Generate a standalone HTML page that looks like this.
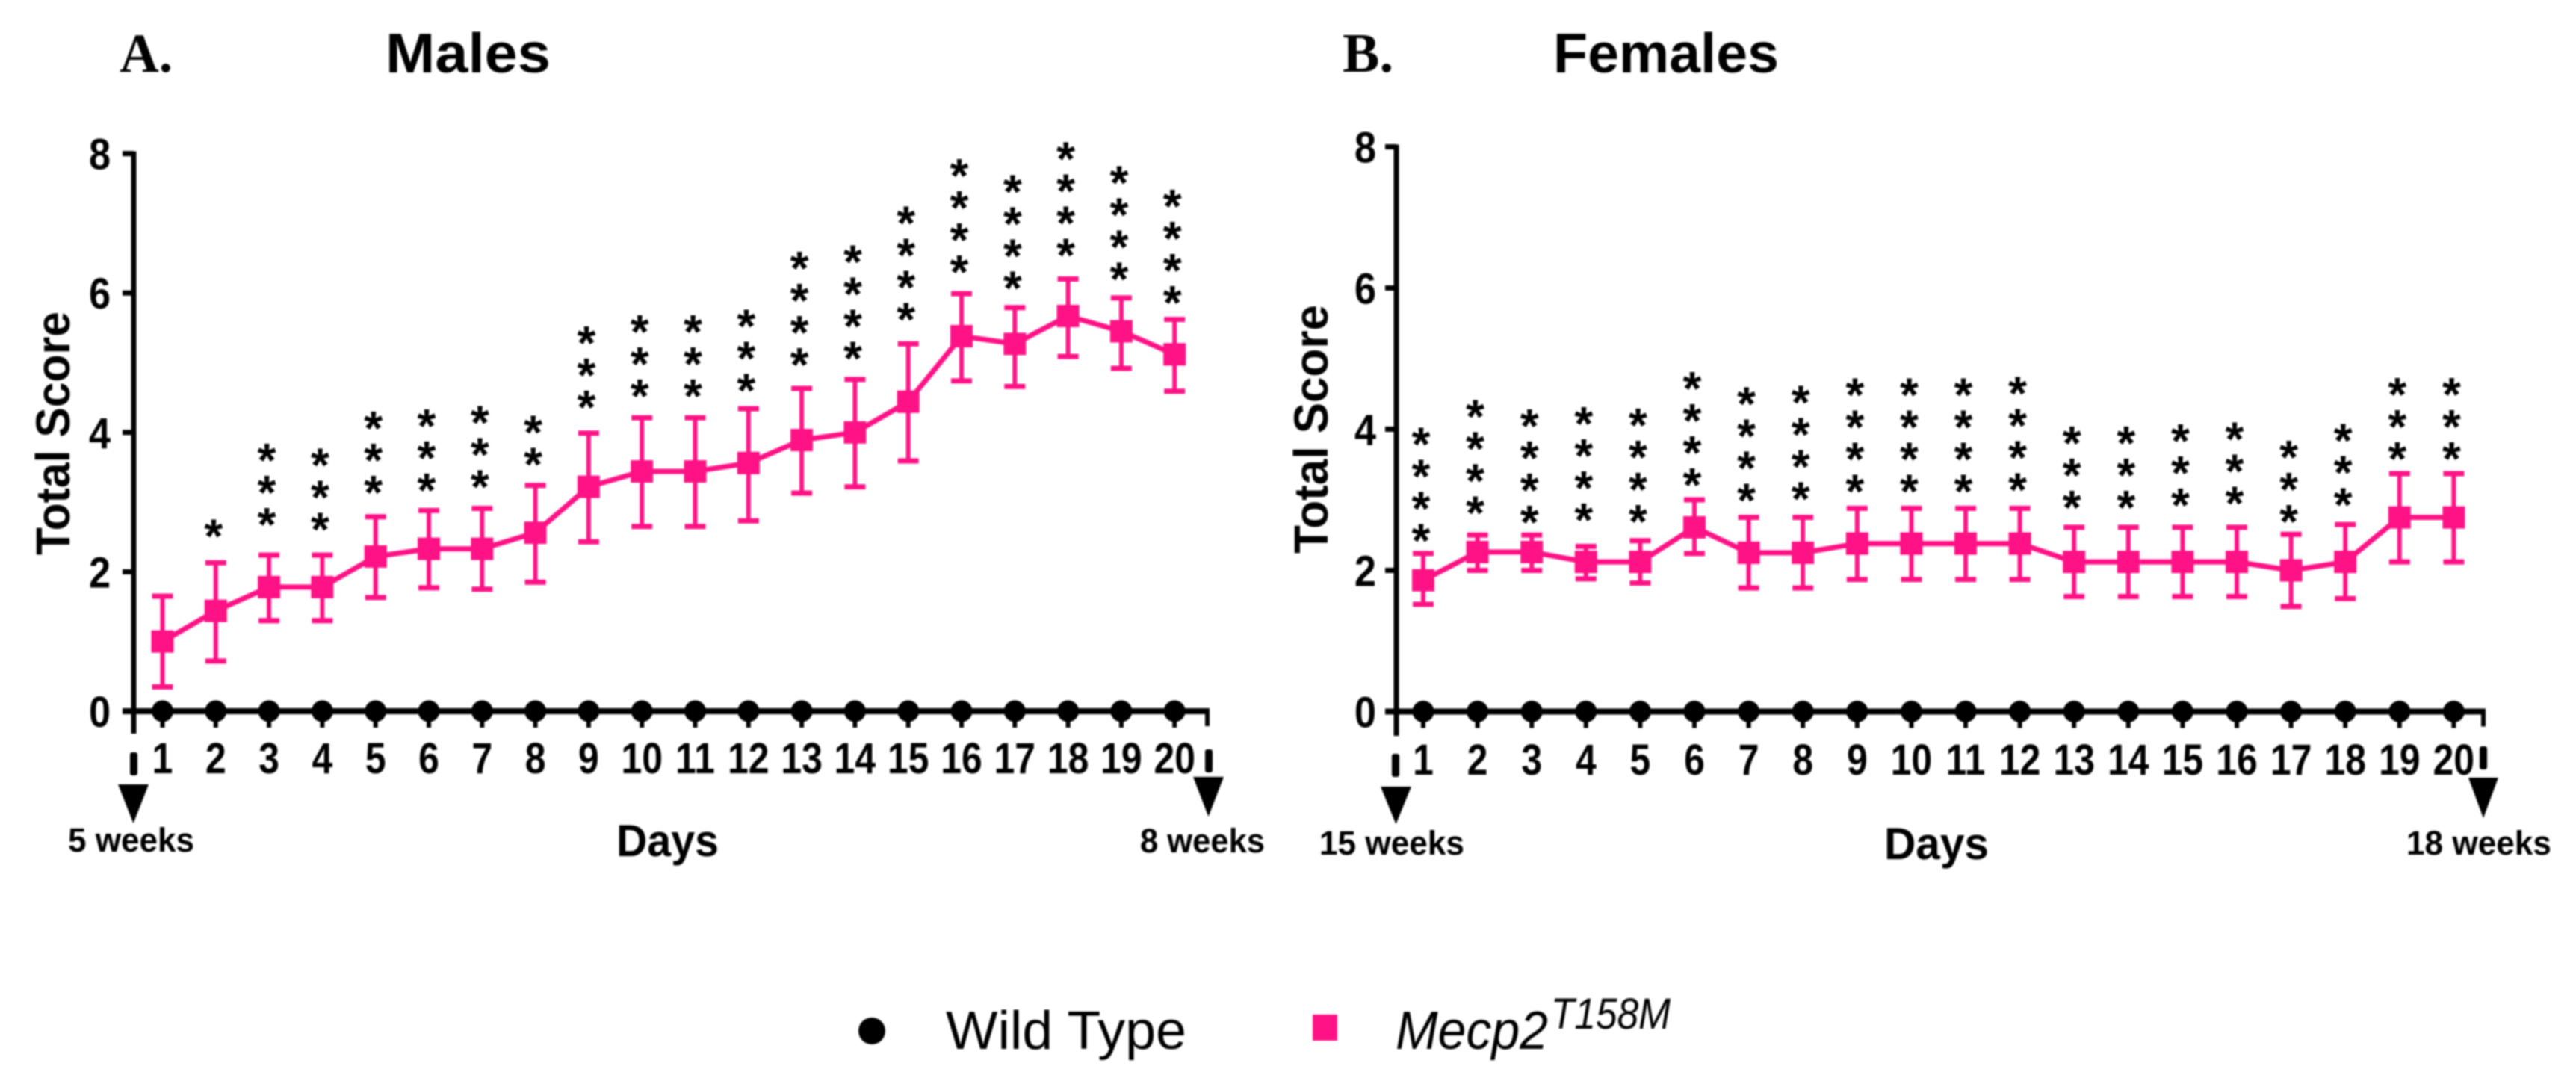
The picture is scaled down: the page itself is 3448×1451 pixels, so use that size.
<!DOCTYPE html>
<html>
<head>
<meta charset="utf-8">
<title>Total Score by Day: Males and Females</title>
<style>
html,body{margin:0;padding:0;background:#fff;width:3448px;height:1451px;overflow:hidden}
svg{display:block;filter:blur(1px)}
text{font-family:"Liberation Sans",sans-serif;fill:#000}
.b{font-weight:700}
</style>
</head>
<body>
<svg xmlns="http://www.w3.org/2000/svg" width="3448" height="1451" viewBox="0 0 3448 1451">
  <rect width="3448" height="1451" fill="#fff"/>

  <text x="160" y="96" font-size="74" font-weight="700" textLength="71" lengthAdjust="spacingAndGlyphs" style="font-family:'Liberation Serif',serif">A.</text>
  <text class="b" x="516" y="97" font-size="75" textLength="221" lengthAdjust="spacingAndGlyphs">Males</text>
  <text x="1797" y="96" font-size="74" font-weight="700" textLength="68" lengthAdjust="spacingAndGlyphs" style="font-family:'Liberation Serif',serif">B.</text>
  <text class="b" x="2079" y="97" font-size="75" textLength="302" lengthAdjust="spacingAndGlyphs">Females</text>

  <g id="panel-a"></g>
  <g id="panel-b"></g>

  <text class="b" transform="translate(93,743) rotate(-90)" font-size="64" textLength="326" lengthAdjust="spacingAndGlyphs">Total Score</text>
  <text class="b" transform="translate(1777,741) rotate(-90)" font-size="64" textLength="333" lengthAdjust="spacingAndGlyphs">Total Score</text>

  <text class="b" x="825" y="1146" font-size="60" textLength="137" lengthAdjust="spacingAndGlyphs">Days</text>
  <text class="b" x="2522" y="1150" font-size="60" textLength="140" lengthAdjust="spacingAndGlyphs">Days</text>

  <rect x="174" y="1007" width="10" height="31" rx="3" fill="#000"/>
  <polygon points="158,1050 199,1050 178.5,1102" fill="#000"/>
  <text class="b" x="91" y="1140" font-size="45" textLength="169" lengthAdjust="spacingAndGlyphs">5 weeks</text>
  <rect x="1613" y="1003" width="10" height="31" rx="3" fill="#000"/>
  <polygon points="1597,1040 1638,1040 1617.5,1093" fill="#000"/>
  <text class="b" x="1526" y="1141" font-size="45" textLength="167" lengthAdjust="spacingAndGlyphs">8 weeks</text>

  <rect x="1863" y="1009" width="10" height="31" rx="3" fill="#000"/>
  <polygon points="1848,1053 1889,1053 1868.5,1103" fill="#000"/>
  <text class="b" x="1766" y="1144" font-size="45" textLength="194" lengthAdjust="spacingAndGlyphs">15 weeks</text>
  <rect x="3319" y="999" width="10" height="31" rx="3" fill="#000"/>
  <polygon points="3304,1041 3344,1041 3324,1095" fill="#000"/>
  <text class="b" x="3221" y="1144" font-size="45" textLength="194" lengthAdjust="spacingAndGlyphs">18 weeks</text>

  <g>
    <circle cx="1167" cy="1380" r="18" fill="#000"/>
    <text x="1266" y="1404" font-size="72" textLength="322" lengthAdjust="spacingAndGlyphs">Wild Type</text>
    <rect x="1757" y="1358" width="33" height="35" fill="#ff1285"/>
    <text x="1868" y="1404" font-size="72" font-style="italic" textLength="204" lengthAdjust="spacingAndGlyphs">Mecp2</text>
    <text x="2076" y="1377" font-size="58" font-style="italic" textLength="160" lengthAdjust="spacingAndGlyphs">T158M</text>
  </g>
</svg>

<script>
const days = ['1','2','3','4','5','6','7','8','9','10','11','12','13','14','15','16','17','18','19','20'];
const yTicks = [0, 2, 4, 6, 8];

const wildTypeMales = [0,0,0,0,0,0,0,0,0,0,0,0,0,0,0,0,0,0,0,0];
const malesMean  = [1.00,1.44,1.78,1.78,2.22,2.33,2.33,2.56,3.22,3.44,3.44,3.56,3.89,4.00,4.44,5.38,5.27,5.67,5.45,5.12];
const malesUpper = [1.65,2.13,2.24,2.24,2.79,2.88,2.91,3.24,3.99,4.21,4.21,4.34,4.63,4.76,5.27,5.99,5.79,6.20,5.93,5.62];
const malesLower = [0.35,0.72,1.30,1.30,1.63,1.77,1.75,1.85,2.43,2.65,2.65,2.73,3.13,3.22,3.59,4.74,4.66,5.09,4.92,4.59];
const malesStarCount = [0,1,3,3,3,3,3,2,3,3,3,3,4,4,4,4,4,4,4,4];
const malesStarBase  = [0,2.63,2.80,2.73,3.26,3.29,3.34,3.66,4.48,4.64,4.64,4.72,5.09,5.18,5.74,6.42,6.19,6.66,6.32,5.98];

const wildTypeFemales = [0,0,0,0,0,0,0,0,0,0,0,0,0,0,0,0,0,0,0,0];
const femalesMean  = [1.86,2.26,2.26,2.12,2.12,2.61,2.25,2.25,2.38,2.38,2.38,2.38,2.12,2.12,2.12,2.12,2.00,2.12,2.75,2.75];
const femalesUpper = [2.24,2.50,2.50,2.34,2.42,3.00,2.75,2.75,2.88,2.88,2.88,2.88,2.61,2.61,2.61,2.61,2.51,2.65,3.37,3.37];
const femalesLower = [1.52,2.00,2.00,1.88,1.82,2.24,1.75,1.75,1.87,1.87,1.87,1.87,1.63,1.63,1.63,1.63,1.49,1.60,2.12,2.12];
const femalesStarCount = [4,4,4,4,4,4,4,4,4,4,4,4,3,3,3,3,3,3,3,3];
const femalesStarBase  = [2.54,2.93,2.80,2.83,2.81,3.33,3.11,3.13,3.24,3.24,3.24,3.26,3.01,3.01,3.04,3.07,2.81,3.05,3.70,3.70];

const SVGNS = 'http://www.w3.org/2000/svg';
const PINK = '#ff1285';

function mk(parent, tag) {
  const el = document.createElementNS(SVGNS, tag);
  parent.appendChild(el);
  return el;
}
function line(parent, x1, y1, x2, y2, color, width) {
  const el = mk(parent, 'line');
  el.setAttribute('x1', x1);
  el.setAttribute('y1', y1);
  el.setAttribute('x2', x2);
  el.setAttribute('y2', y2);
  el.setAttribute('stroke', color);
  el.setAttribute('stroke-width', width);
  return el;
}

function drawPanel(id, geo, wild, mean, upper, lower, starCount, starBase) {
  const g = document.getElementById(id);
  const xScale = i => geo.x1 + i * geo.dx;
  const yScale = v => geo.y0 - v * geo.unit;

  const yAxis = line(g, geo.axisX, yScale(8) - 3, geo.axisX, geo.axisBottom, '#000', 7);
  
  

  yTicks.forEach(t => {
    const tick = line(g, geo.axisX - 15, yScale(t), geo.axisX, yScale(t), '#000', 7);
    
    
    const lab = mk(g, 'text');
    lab.textContent = String(t);
    lab.setAttribute('class', 'b');
    lab.setAttribute('font-size', '58');
    lab.setAttribute('text-anchor', 'end');
    lab.setAttribute('transform', 'translate(' + geo.yLabelX + ',' + (yScale(t) + 21) + ') scale(0.9,1)');
    
    
  });

  const xAxis = line(g, geo.axisX - 15, geo.y0, geo.xEnd, geo.y0, '#000', 8);
  
  
  const xEndTick = line(g, geo.xEnd - 2, geo.y0 - 4, geo.xEnd - 2, geo.y0 + 20, '#000', 6);
  
  

  days.forEach((d, i) => {
    const tick = line(g, xScale(i), geo.y0, xScale(i), geo.y0 + 22, '#000', 6);
    
    
    const lab = mk(g, 'text');
    lab.textContent = d;
    lab.setAttribute('class', 'b');
    lab.setAttribute('font-size', '58');
    lab.setAttribute('text-anchor', 'middle');
    lab.setAttribute('transform', 'translate(' + xScale(i) + ',' + geo.xLabelY + ') scale(0.86,1)');
    
    
  });

  mean.forEach((v, i) => {
    const x = xScale(i);
    const stem = line(g, x, yScale(upper[i]), x, yScale(lower[i]), PINK, 6);
    
    
    const capTop = line(g, x - 14, yScale(upper[i]), x + 14, yScale(upper[i]), PINK, 7);
    
    
    const capBottom = line(g, x - 14, yScale(lower[i]), x + 14, yScale(lower[i]), PINK, 7);
    
    
  });

  const path = mk(g, 'polyline');
  path.setAttribute('points', mean.map((v, i) => xScale(i) + ',' + yScale(v)).join(' '));
  path.setAttribute('fill', 'none');
  path.setAttribute('stroke', PINK);
  path.setAttribute('stroke-width', '7');
  
  

  mean.forEach((v, i) => {
    const sq = mk(g, 'rect');
    sq.setAttribute('x', xScale(i) - 15);
    sq.setAttribute('y', yScale(v) - 15);
    sq.setAttribute('width', 30);
    sq.setAttribute('height', 30);
    sq.setAttribute('fill', PINK);
    
    
  });

  wild.forEach((v, i) => {
    const dot = mk(g, 'circle');
    dot.setAttribute('cx', xScale(i));
    dot.setAttribute('cy', yScale(v));
    dot.setAttribute('r', 14.5);
    dot.setAttribute('fill', '#000');
    
    
  });

  starCount.forEach((n, i) => {
    for (let k = 0; k < n; k++) {
      const s = mk(g, 'text');
      s.textContent = '*';
      s.setAttribute('class', 'b');
      s.setAttribute('font-size', '64');
      s.setAttribute('text-anchor', 'middle');
      s.setAttribute('x', xScale(i) - 3);
      s.setAttribute('y', yScale(starBase[i]) - k * 43 + 33);
      
      
    }
  });
}

drawPanel('panel-a',
  {x1: 217.5, dx: 71.3, y0: 952, unit: 93.3, axisX: 179, axisBottom: 982, xEnd: 1618, yLabelX: 148, xLabelY: 1035},
  wildTypeMales, malesMean, malesUpper, malesLower, malesStarCount, malesStarBase);
drawPanel('panel-b',
  {x1: 1905, dx: 72.6, y0: 952.5, unit: 94.5, axisX: 1869, axisBottom: 985, xEnd: 3326, yLabelX: 1842, xLabelY: 1037},
  wildTypeFemales, femalesMean, femalesUpper, femalesLower, femalesStarCount, femalesStarBase);
</script>
</body>
</html>
